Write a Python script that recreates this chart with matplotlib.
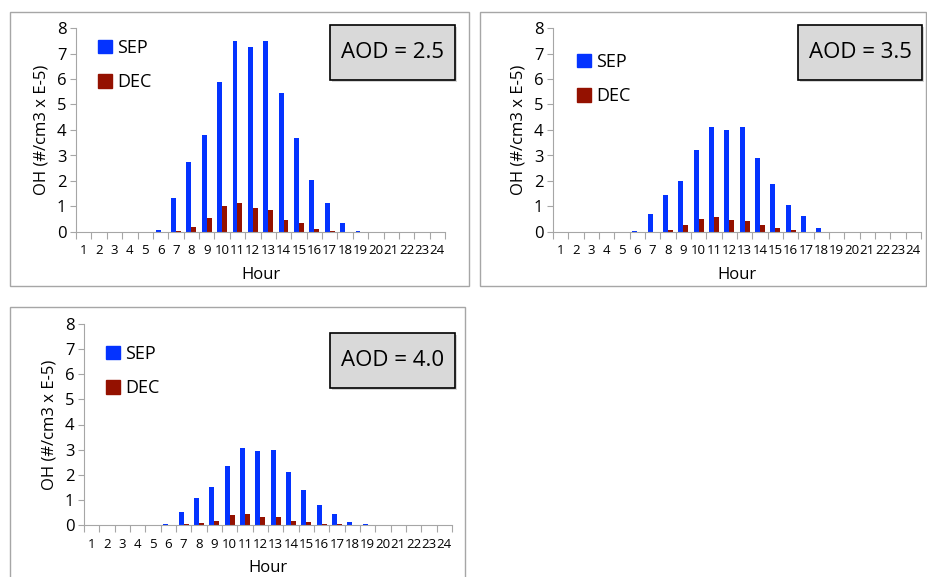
import matplotlib
matplotlib.use("Agg")
import matplotlib.pyplot as plt
from matplotlib.patches import Rectangle, Patch
import numpy as np

plt.rcParams['font.family'] = ['Open Sans', 'DejaVu Sans']

# data
hours = list(range(1, 25))
aod_labels = ["AOD = 2.5", "AOD = 3.5", "AOD = 4.0"]

sep_25 = [0, 0, 0, 0, 0, 0.08, 1.35, 2.75, 3.8, 5.9, 7.5, 7.25, 7.5, 5.45, 3.7, 2.05, 1.15, 0.35, 0.03, 0, 0, 0, 0, 0]
dec_25 = [0, 0, 0, 0, 0, 0, 0.03, 0.18, 0.53, 1.0, 1.15, 0.95, 0.85, 0.48, 0.35, 0.13, 0.03, 0, 0, 0, 0, 0, 0, 0]
sep_35 = [0, 0, 0, 0, 0, 0.02, 0.72, 1.47, 2.0, 3.2, 4.1, 4.0, 4.1, 2.9, 1.9, 1.07, 0.62, 0.17, 0.01, 0, 0, 0, 0, 0]
dec_35 = [0, 0, 0, 0, 0, 0, 0.01, 0.07, 0.27, 0.52, 0.57, 0.47, 0.42, 0.27, 0.17, 0.07, 0.01, 0, 0, 0, 0, 0, 0, 0]
sep_40 = [0, 0, 0, 0, 0, 0.03, 0.53, 1.08, 1.5, 2.35, 3.05, 2.95, 3.0, 2.1, 1.4, 0.78, 0.43, 0.12, 0.02, 0, 0, 0, 0, 0]
dec_40 = [0, 0, 0, 0, 0, 0, 0.02, 0.07, 0.17, 0.38, 0.43, 0.33, 0.33, 0.17, 0.12, 0.03, 0.02, 0, 0, 0, 0, 0, 0, 0]

SEP_C = "#0433ff"
DEC_C = "#941100"
GRID_C = "#a6a6a6"

W, H = 927, 577
fig = plt.figure(figsize=(W / 100, H / 100), dpi=100)


def fr(x0, y0, x1, y1):
    # pixel box (top-left origin) -> figure fraction [l, b, w, h]
    return [x0 / W, 1 - y1 / H, (x1 - x0) / W, (y1 - y0) / H]


def frame(x0, y0, x1, y1):
    l, b, w, h = fr(x0, y0, x1, y1)
    fig.add_artist(Rectangle((l, b), w, h, transform=fig.transFigure,
                             facecolor="white", edgecolor=GRID_C, lw=1.0, zorder=0))


def panel(axbox, sep, dec, label, legpos, boxpos):
    ax = fig.add_axes(fr(*axbox))
    x = np.array(hours)
    bw = 0.32
    ax.bar(x - bw / 2, sep, bw, color=SEP_C, zorder=2)
    ax.bar(x + bw / 2, dec, bw, color=DEC_C, zorder=2)
    ax.set_xlim(0.5, 24.5)
    ax.set_ylim(0, 8)
    ax.set_yticks(range(0, 9))
    ax.tick_params(axis='y', labelsize=12, length=4, color=GRID_C, pad=3)
    ax.set_xticks(np.arange(0.5, 25, 1))
    ax.set_xticklabels([])
    ax.tick_params(axis='x', which='major', length=5, color=GRID_C)
    ax.set_xticks(hours, minor=True)
    ax.set_xticklabels([str(h) for h in hours], minor=True, fontsize=9.5)
    ax.tick_params(axis='x', which='minor', length=0, pad=9)
    for s in ['top', 'right']:
        ax.spines[s].set_visible(False)
    for s in ['left', 'bottom']:
        ax.spines[s].set_color(GRID_C)
    ax.set_facecolor('none')
    ax.set_xlabel("Hour", fontsize=12, labelpad=7)
    ax.set_ylabel("OH (#/cm3 x E-5)", fontsize=12, labelpad=5)

    handles = [Patch(color=SEP_C, label="SEP"), Patch(color=DEC_C, label="DEC")]
    lx, ly = legpos
    fig.legend(handles=handles, loc='upper left', frameon=False,
               bbox_to_anchor=(lx / W, 1 - ly / H), fontsize=13,
               handlelength=0.75, handleheight=0.75, handletextpad=0.3,
               labelspacing=0.9, borderpad=0, borderaxespad=0)

    bx0, by0, bx1, by1 = boxpos
    l, b, w, h = fr(bx0, by0, bx1, by1)
    fig.add_artist(Rectangle((l + 2 / W, b - 2 / H), w, h, transform=fig.transFigure,
                             facecolor="#bbbbbb", edgecolor='none', alpha=0.6, zorder=3))
    fig.add_artist(Rectangle((l, b), w, h, transform=fig.transFigure,
                             facecolor="#d9d9d9", edgecolor="black", lw=1.2, zorder=4))
    fig.text(l + w / 2, b + h / 2, label, ha='center', va='center',
             fontsize=16, zorder=5)


frame(10, 12, 469, 286)
frame(480, 12, 926, 286)
frame(10, 307, 465, 580)

panel((76, 28, 445, 232), sep_25, dec_25, aod_labels[0], (98, 39), (330, 25, 455, 80))
panel((553, 28, 921, 232), sep_35, dec_35, aod_labels[1], (577, 53), (798, 25, 922, 80))
panel((84, 324, 452, 525), sep_40, dec_40, aod_labels[2], (106, 345), (330, 333, 455, 388))

plt.savefig("out.png", dpi=100)
